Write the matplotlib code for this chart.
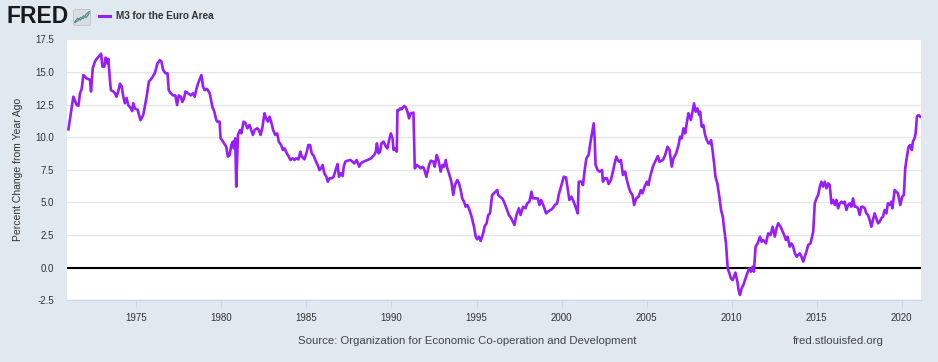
"""FRED-style chart: M3 for the Euro Area, percent change from year ago."""

import matplotlib

matplotlib.use("Agg")
import matplotlib.pyplot as plt
from matplotlib.patches import FancyBboxPatch

# Decimal years and values
years = [
    1971.00, 1971.29, 1971.49, 1971.59, 1971.68, 1971.78, 1971.88, 1972.07, 1972.27, 1972.33,
    1972.43, 1972.56, 1972.66, 1972.80, 1972.92, 1973.00, 1973.11, 1973.19, 1973.27, 1973.35,
    1973.44, 1973.50, 1973.64, 1973.74, 1973.83, 1973.93, 1974.03, 1974.13, 1974.23, 1974.32,
    1974.42, 1974.52, 1974.68, 1974.75, 1974.81, 1974.91, 1975.07, 1975.24, 1975.40, 1975.60,
    1975.73, 1975.89, 1976.08, 1976.24, 1976.38, 1976.47, 1976.57, 1976.71, 1976.83, 1976.90,
    1977.02, 1977.16, 1977.29, 1977.39, 1977.49, 1977.61, 1977.70, 1977.80, 1977.88, 1978.04,
    1978.19, 1978.33, 1978.43, 1978.49, 1978.62, 1978.82, 1978.92, 1979.01, 1979.15, 1979.31,
    1979.47, 1979.57, 1979.70, 1979.76, 1979.89, 1979.95, 1980.03, 1980.15, 1980.28, 1980.38,
    1980.48, 1980.58, 1980.68, 1980.73, 1980.81, 1980.87, 1980.97, 1981.09, 1981.17, 1981.30,
    1981.42, 1981.52, 1981.65, 1981.75, 1981.85, 1981.95, 1982.10, 1982.20, 1982.30, 1982.40,
    1982.53, 1982.63, 1982.73, 1982.83, 1982.92, 1983.04, 1983.16, 1983.28, 1983.37, 1983.51,
    1983.61, 1983.71, 1983.84, 1983.96, 1984.06, 1984.19, 1984.29, 1984.39, 1984.53, 1984.64,
    1984.72, 1984.88, 1985.02, 1985.11, 1985.21, 1985.31, 1985.43, 1985.56, 1985.66, 1985.76,
    1985.86, 1985.95, 1986.05, 1986.17, 1986.25, 1986.36, 1986.48, 1986.60, 1986.74, 1986.83,
    1986.91, 1987.03, 1987.13, 1987.19, 1987.28, 1987.42, 1987.58, 1987.71, 1987.81, 1987.95,
    1988.10, 1988.20, 1988.34, 1988.59, 1988.79, 1988.98, 1989.08, 1989.14, 1989.24, 1989.33,
    1989.41, 1989.53, 1989.67, 1989.76, 1989.86, 1989.96, 1990.06, 1990.12, 1990.21, 1990.31,
    1990.35, 1990.45, 1990.51, 1990.60, 1990.74, 1990.84, 1990.94, 1991.03, 1991.13, 1991.29,
    1991.37, 1991.48, 1991.62, 1991.72, 1991.82, 1991.91, 1992.05, 1992.21, 1992.31, 1992.46,
    1992.54, 1992.66, 1992.76, 1992.89, 1992.99, 1993.09, 1993.19, 1993.28, 1993.38, 1993.52,
    1993.63, 1993.73, 1993.87, 1993.97, 1994.07, 1994.16, 1994.26, 1994.36, 1994.46, 1994.55,
    1994.71, 1994.85, 1994.95, 1995.04, 1995.14, 1995.24, 1995.39, 1995.47, 1995.59, 1995.69,
    1995.79, 1995.92, 1996.02, 1996.22, 1996.27, 1996.37, 1996.51, 1996.61, 1996.76, 1996.90,
    1997.04, 1997.23, 1997.35, 1997.49, 1997.59, 1997.74, 1997.88, 1997.98, 1998.11, 1998.23,
    1998.31, 1998.47, 1998.60, 1998.70, 1998.80, 1998.96, 1999.09, 1999.19, 1999.35, 1999.48,
    1999.60, 1999.74, 1999.83, 1999.97, 2000.13, 2000.26, 2000.36, 2000.46, 2000.58, 2000.71,
    2000.85, 2000.95, 2001.01, 2001.16, 2001.26, 2001.36, 2001.46, 2001.59, 2001.69, 2001.79,
    2001.89, 2001.95, 2002.00, 2002.12, 2002.24, 2002.38, 2002.43, 2002.53, 2002.67, 2002.77,
    2002.90, 2003.02, 2003.10, 2003.22, 2003.30, 2003.39, 2003.49, 2003.61, 2003.74, 2003.84,
    2003.94, 2004.04, 2004.17, 2004.27, 2004.39, 2004.53, 2004.66, 2004.76, 2004.88, 2005.02,
    2005.11, 2005.21, 2005.37, 2005.50, 2005.66, 2005.76, 2005.96, 2006.09, 2006.23, 2006.35,
    2006.48, 2006.58, 2006.74, 2006.88, 2006.97, 2007.07, 2007.17, 2007.27, 2007.36, 2007.46,
    2007.60, 2007.70, 2007.79, 2007.89, 2007.99, 2008.09, 2008.15, 2008.24, 2008.34, 2008.44,
    2008.54, 2008.63, 2008.73, 2008.79, 2008.89, 2008.97, 2009.05, 2009.16, 2009.28, 2009.38,
    2009.48, 2009.57, 2009.67, 2009.77, 2009.87, 2009.96, 2010.06, 2010.14, 2010.22, 2010.34,
    2010.41, 2010.49, 2010.59, 2010.69, 2010.79, 2010.92, 2011.04, 2011.14, 2011.24, 2011.31,
    2011.41, 2011.53, 2011.67, 2011.76, 2011.86, 2012.02, 2012.15, 2012.29, 2012.41, 2012.54,
    2012.64, 2012.74, 2012.88, 2013.00, 2013.09, 2013.19, 2013.29, 2013.42, 2013.52, 2013.62,
    2013.72, 2013.82, 2013.91, 2014.01, 2014.11, 2014.21, 2014.30, 2014.40, 2014.50, 2014.64,
    2014.80, 2014.89, 2014.99, 2015.09, 2015.19, 2015.28, 2015.38, 2015.48, 2015.58, 2015.68,
    2015.77, 2015.87, 2015.97, 2016.07, 2016.16, 2016.26, 2016.36, 2016.46, 2016.56, 2016.65,
    2016.75, 2016.85, 2016.95, 2017.04, 2017.14, 2017.24, 2017.34, 2017.43, 2017.53, 2017.63,
    2017.73, 2017.83, 2017.92, 2018.02, 2018.12, 2018.22, 2018.31, 2018.41, 2018.51, 2018.61,
    2018.71, 2018.80, 2018.90, 2019.00, 2019.10, 2019.19, 2019.29, 2019.39, 2019.45, 2019.59,
    2019.68, 2019.78, 2019.92, 2020.03, 2020.13, 2020.21, 2020.31, 2020.41, 2020.50, 2020.60,
    2020.66, 2020.76, 2020.82, 2020.90, 2020.99, 2021.09,
]
pct_change = [
    10.60, 13.10, 12.46, 12.40, 13.36, 13.70, 14.76, 14.50, 14.40, 13.50,
    15.27, 15.80, 16.00, 16.20, 16.40, 15.40, 15.40, 16.10, 15.66, 16.00,
    14.40, 13.60, 13.50, 13.36, 13.10, 13.50, 14.10, 13.90, 13.10, 12.60,
    13.00, 12.46, 12.20, 12.00, 12.60, 12.20, 12.10, 11.30, 11.70, 13.10,
    14.25, 14.50, 14.90, 15.66, 15.90, 15.80, 15.15, 14.90, 14.90, 13.60,
    13.36, 13.20, 13.20, 12.46, 13.20, 13.10, 12.70, 12.97, 13.50, 13.36,
    13.20, 13.36, 13.10, 13.50, 14.10, 14.76, 13.87, 13.60, 13.70, 13.36,
    12.30, 12.00, 11.30, 11.19, 11.19, 9.91, 9.78, 9.53, 9.27, 8.51,
    8.63, 9.40, 9.66, 9.14, 9.91, 6.21, 10.17, 10.55, 10.29, 11.19,
    11.06, 10.68, 10.93, 10.55, 10.17, 10.55, 10.68, 10.55, 10.17, 10.68,
    11.83, 11.44, 11.19, 11.57, 11.19, 10.55, 10.17, 10.29, 9.66, 9.40,
    9.02, 9.14, 8.76, 8.51, 8.25, 8.38, 8.25, 8.38, 8.30, 8.89,
    8.51, 8.30, 8.89, 9.40, 9.40, 8.76, 8.56, 8.12, 7.87, 7.48,
    7.61, 7.87, 7.23, 6.97, 6.59, 6.85, 6.85, 6.97, 7.61, 7.94,
    6.97, 7.23, 7.02, 7.74, 8.12, 8.20, 8.25, 8.12, 7.99, 8.25,
    7.74, 7.99, 8.12, 8.25, 8.38, 8.63, 8.89, 9.53, 8.76, 8.89,
    9.53, 9.66, 9.27, 9.14, 9.78, 10.29, 9.91, 9.02, 9.14, 8.89,
    12.08, 12.08, 12.21, 12.13, 12.39, 12.29, 11.95, 11.44, 11.83, 11.88,
    7.61, 7.87, 7.74, 7.61, 7.74, 7.61, 6.97, 7.87, 8.20, 8.12,
    7.74, 8.63, 8.25, 7.36, 7.87, 7.74, 8.25, 7.61, 7.23, 6.59,
    5.57, 6.33, 6.72, 6.46, 5.95, 5.31, 5.06, 4.67, 4.80, 4.55,
    3.91, 3.14, 2.38, 2.17, 2.38, 2.04, 2.63, 3.14, 3.40, 4.04,
    4.16, 5.57, 5.70, 5.95, 5.57, 5.44, 5.31, 5.06, 4.55, 4.04,
    3.78, 3.27, 4.04, 4.55, 4.04, 4.67, 4.55, 4.93, 5.06, 5.82,
    5.31, 5.31, 5.31, 4.80, 5.19, 4.67, 4.16, 4.29, 4.42, 4.55,
    4.80, 4.93, 5.57, 6.21, 6.97, 6.92, 6.08, 5.19, 5.44, 5.06,
    4.55, 4.16, 6.59, 6.59, 6.33, 7.48, 8.38, 8.63, 9.53, 10.29,
    11.06, 9.78, 7.87, 7.48, 7.36, 7.48, 6.59, 6.85, 6.85, 6.41,
    6.72, 7.36, 7.87, 8.51, 8.25, 8.12, 8.25, 7.10, 7.36, 6.72,
    6.21, 5.82, 5.57, 4.80, 5.31, 5.44, 5.95, 5.70, 6.21, 6.59,
    6.33, 6.97, 7.74, 8.12, 8.56, 8.12, 8.25, 8.63, 9.27, 9.02,
    7.74, 8.38, 8.76, 9.40, 10.04, 9.91, 10.68, 10.29, 11.06, 11.83,
    11.32, 11.95, 12.59, 11.95, 12.21, 11.70, 11.95, 10.80, 10.93, 10.17,
    9.78, 9.53, 9.53, 9.78, 8.89, 7.99, 6.97, 6.46, 5.44, 4.42,
    3.91, 2.89, 1.86, -0.05, -0.43, -0.82, -0.95, -0.69, -0.38, -1.07,
    -1.71, -2.09, -1.58, -1.33, -0.95, -0.43, -0.05, -0.31, 0.08, -0.31,
    1.61, 1.86, 2.38, 1.99, 2.12, 1.86, 2.63, 2.50, 3.14, 2.38,
    3.01, 3.40, 3.14, 2.76, 2.50, 2.12, 2.38, 1.61, 1.86, 1.61,
    1.10, 0.84, 0.97, 1.10, 0.84, 0.46, 0.84, 1.23, 1.74, 1.86,
    2.76, 4.93, 5.31, 5.57, 6.21, 6.59, 6.21, 6.59, 6.08, 6.46,
    6.33, 4.93, 5.19, 4.80, 5.19, 4.55, 4.93, 5.06, 4.93, 5.06,
    4.42, 4.80, 4.93, 4.67, 5.31, 4.67, 4.67, 4.55, 4.04, 4.67,
    4.67, 4.55, 4.16, 4.04, 3.65, 3.14, 3.65, 4.16, 3.78, 3.40,
    3.52, 3.78, 3.91, 4.42, 4.16, 4.93, 4.80, 5.06, 4.55, 5.95,
    5.82, 5.70, 4.80, 5.44, 5.57, 7.61, 8.51, 9.27, 9.40, 9.02,
    9.66, 9.91, 10.29, 11.57, 11.70, 11.57,
]

x_ticks = [1975, 1980, 1985, 1990, 1995, 2000, 2005, 2010, 2015, 2020]
y_ticks = [-2.5, 0.0, 2.5, 5.0, 7.5, 10.0, 12.5, 15.0, 17.5]

# little logo sparkline next to "FRED"
icon_green = [0.25, 0.45, 0.35, 0.6, 0.5, 0.75]
icon_blue = [0.2, 0.3, 0.5, 0.45, 0.7, 0.85]

BG = "#e1e9f0"
LINE_COLOR = "#971ef7"
TEXT_COLOR = "#333333"
AXIS_COLOR = "#ccd6eb"
FONT = "Liberation Sans"


def draw_header(fig):
    fig.text(7 / 938, 1 - 16.5 / 362, "FRED", fontsize=16.5, fontweight="heavy",
             family=FONT, color="#1a1a1a", va="center", ha="left")
    icon = fig.add_axes([73 / 938, 1 - 26 / 362, 18 / 938, 17 / 362])
    icon.set_xlim(0, 1)
    icon.set_ylim(0, 1)
    icon.axis("off")
    icon.add_patch(FancyBboxPatch((0.02, 0.02), 0.96, 0.96,
                                  boxstyle="round,pad=0,rounding_size=0.12",
                                  facecolor="#d9dde2", edgecolor="#b9bec4", lw=0.5))
    steps = [0.1 + 0.16 * i for i in range(len(icon_green))]
    icon.plot(steps, icon_green, color="#5b9a4a", lw=0.9)
    icon.plot(steps, icon_blue, color="#4a86b8", lw=0.9)

    fig.add_artist(plt.Line2D([99 / 938, 110 / 938], [1 - 16 / 362, 1 - 16 / 362],
                              color=LINE_COLOR, lw=2.2, transform=fig.transFigure))
    fig.text(116 / 938, 1 - 16 / 362, "M3 for the Euro Area", fontsize=7.2,
             fontweight="bold", family=FONT, color=TEXT_COLOR, va="center", ha="left")


def main():
    fig = plt.figure(figsize=(9.38, 3.62), dpi=100, facecolor=BG)
    ax = fig.add_axes([66.7 / 938, 1 - 300.3 / 362, (920.7 - 66.7) / 938, 261 / 362])
    ax.set_facecolor("white")

    ax.set_xlim(1970.9, 2021.12)
    ax.set_ylim(-2.5, 17.5)

    ax.set_yticks(y_ticks)
    ax.set_yticklabels([f"{v:.1f}" for v in y_ticks])
    ax.set_xticks(x_ticks)
    ax.set_xticklabels([str(y) for y in x_ticks])

    ax.grid(axis="y", color="#e6e6e6", lw=0.9)
    ax.set_axisbelow(True)
    for side in ("top", "right", "left"):
        ax.spines[side].set_visible(False)
    ax.spines["bottom"].set_color(AXIS_COLOR)
    ax.spines["bottom"].set_linewidth(0.9)

    ax.tick_params(axis="y", length=0, pad=9, labelsize=7, labelcolor=TEXT_COLOR)
    ax.tick_params(axis="x", length=6, width=0.8, color=AXIS_COLOR, pad=3,
                   labelsize=7, labelcolor=TEXT_COLOR)
    for label in ax.get_xticklabels() + ax.get_yticklabels():
        label.set_family(FONT)

    ax.axhline(0, color="black", lw=1.5, zorder=2)
    ax.plot(years, pct_change, color=LINE_COLOR, lw=1.9, zorder=3,
            solid_joinstyle="round")

    ax.set_ylabel("Percent Change from Year Ago", fontsize=7.5, family=FONT,
                  color=TEXT_COLOR, labelpad=9)

    draw_header(fig)

    fig.text(467 / 938, 1 - 341 / 362,
             "Source: Organization for Economic Co-operation and Development",
             fontsize=8.2, family=FONT, color="#444444", ha="center", va="center")
    fig.text(838 / 938, 1 - 341 / 362, "fred.stlouisfed.org", fontsize=8.2,
             family=FONT, color="#444444", ha="center", va="center")

    fig.savefig("out.png", dpi=100, facecolor=BG)
    plt.close(fig)


if __name__ == "__main__":
    main()
